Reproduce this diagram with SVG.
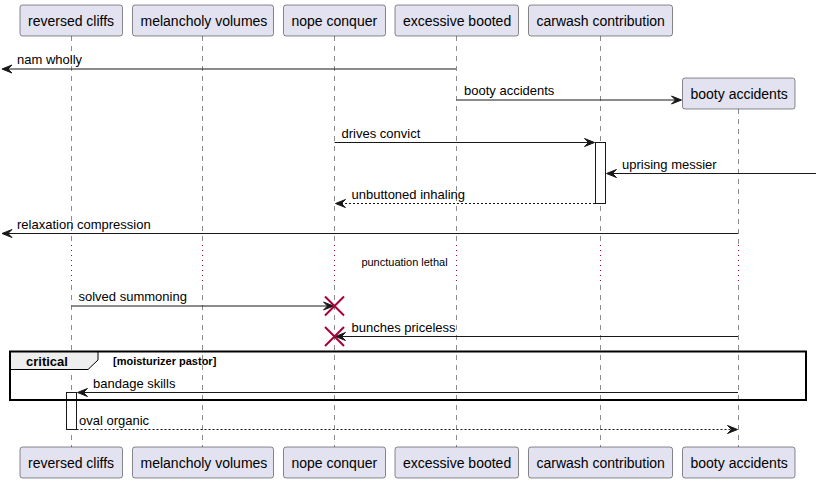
<svg xmlns="http://www.w3.org/2000/svg" width="820" height="483" viewBox="0 0 820 483">
<style>
.p rect{fill:#E2E2F0;stroke:#181818;stroke-width:0.5}
.p text{font-family:"Liberation Sans",Arial,sans-serif;font-size:14px;fill:#000}
.ll{stroke:#181818;stroke-width:0.5;stroke-dasharray:5,5;fill:none}
.dl{stroke:#A80036;stroke-width:1;stroke-dasharray:1,4;fill:none}
.m{stroke:#181818;stroke-width:1;fill:none}
.d{stroke:#181818;stroke-width:1;fill:none;stroke-dasharray:2,2}
.ah{fill:#181818;stroke:#181818;stroke-width:1}
.t{font-family:"Liberation Sans",Arial,sans-serif;font-size:13px;fill:#000}
.act{fill:#FFFFFF;stroke:#181818;stroke-width:1}
.x{stroke:#A80036;stroke-width:2}
</style>
<rect width="820" height="483" fill="#FFFFFF"/>
<g id="lifelines">
<path class="ll" d="M71.5,36V245M71.5,285V447"/>
<path class="ll" d="M202.5,36V245M202.5,285V447"/>
<path class="ll" d="M334.5,36V245M334.5,285V447"/>
<path class="ll" d="M456.5,36V245M456.5,285V447"/>
<path class="ll" d="M600.5,36V245M600.5,285V447"/>
<path class="ll" d="M738.5,109V245M738.5,285V447"/>
<path class="dl" d="M71.5,245V285M202.5,245V285M334.5,245V285M456.5,245V285M600.5,245V285M738.5,245V285"/>
</g>
<g id="p-reversed-cliffs" class="p">
<rect x="20" y="5" width="102.5" height="31" rx="2.5"/>
<text x="28" y="26">reversed cliffs</text>
<rect x="20" y="447" width="102.5" height="31" rx="2.5"/>
<text x="28" y="467.5">reversed cliffs</text>
</g>
<g id="p-melancholy-volumes" class="p">
<rect x="132.5" y="5" width="141" height="31" rx="2.5"/>
<text x="140.5" y="26">melancholy volumes</text>
<rect x="132.5" y="447" width="141" height="31" rx="2.5"/>
<text x="140.5" y="467.5">melancholy volumes</text>
</g>
<g id="p-nope-conquer" class="p">
<rect x="283.5" y="5" width="102" height="31" rx="2.5"/>
<text x="291.5" y="26">nope conquer</text>
<rect x="283.5" y="447" width="102" height="31" rx="2.5"/>
<text x="291.5" y="467.5">nope conquer</text>
</g>
<g id="p-excessive-booted" class="p">
<rect x="395" y="5" width="123.5" height="31" rx="2.5"/>
<text x="403" y="26">excessive booted</text>
<rect x="395" y="447" width="123.5" height="31" rx="2.5"/>
<text x="403" y="467.5">excessive booted</text>
</g>
<g id="p-carwash-contribution" class="p">
<rect x="528.5" y="5" width="144" height="31" rx="2.5"/>
<text x="536.5" y="26">carwash contribution</text>
<rect x="528.5" y="447" width="144" height="31" rx="2.5"/>
<text x="536.5" y="467.5">carwash contribution</text>
</g>
<g id="p-booty-accidents" class="p">
<rect x="682.5" y="78" width="112.5" height="31" rx="2.5"/>
<text x="690.5" y="99">booty accidents</text>
<rect x="682.5" y="447" width="112.5" height="31" rx="2.5"/>
<text x="690.5" y="467.5">booty accidents</text>
</g>
<g id="activations">
<rect class="act" x="595.5" y="142.5" width="10" height="61"/>
<rect class="act" x="66.5" y="392.5" width="10" height="37"/>
</g>
<g id="frame-critical">
<polygon points="10,351.5 98,351.5 98,360 88,369.5 10,369.5" fill="#EEEEEE" stroke="#000000" stroke-width="1"/>
<rect x="10" y="351.5" width="796" height="48.5" fill="none" stroke="#000000" stroke-width="2"/>
<text x="26" y="366" style="font-family:'Liberation Sans',Arial,sans-serif;font-size:13px;font-weight:bold">critical</text>
<text x="113" y="365" style="font-family:'Liberation Sans',Arial,sans-serif;font-size:11px;font-weight:bold">[moisturizer pastor]</text>
</g>
<g id="connectors">
<line class="m" x1="456" y1="69" x2="3" y2="69"/>
<polygon class="ah" points="2,69 12,65 8,69 12,73"/>
<text class="t" x="17" y="64">nam wholly</text>

<line class="m" x1="456.5" y1="100" x2="680" y2="100"/>
<polygon class="ah" points="681.5,100 671.5,96 675.5,100 671.5,104"/>
<text class="t" x="464" y="95">booty accidents</text>

<line class="m" x1="334.5" y1="142.5" x2="593" y2="142.5"/>
<polygon class="ah" points="594.5,142.5 584.5,138.5 588.5,142.5 584.5,146.5"/>
<text class="t" x="341.5" y="137.5">drives convict</text>

<line class="m" x1="816" y1="173.5" x2="608" y2="173.5"/>
<polygon class="ah" points="606.5,173.5 616.5,169.5 612.5,173.5 616.5,177.5"/>
<text class="t" x="622" y="168.5">uprising messier</text>

<line class="d" x1="595" y1="203.5" x2="337" y2="203.5"/>
<polygon class="ah" points="335.5,203.5 345.5,199.5 341.5,203.5 345.5,207.5"/>
<text class="t" x="351.5" y="198.5">unbuttoned inhaling</text>

<line class="m" x1="738" y1="233.5" x2="3" y2="233.5"/>
<polygon class="ah" points="2,233.5 12,229.5 8,233.5 12,237.5"/>
<text class="t" x="17" y="228.5">relaxation compression</text>

<text x="404.5" y="266" text-anchor="middle" style="font-family:'Liberation Sans',Arial,sans-serif;font-size:11px">punctuation lethal</text>

<line class="m" x1="71.5" y1="306" x2="332" y2="306"/>
<polygon class="ah" points="333.5,306 323.5,302 327.5,306 323.5,310"/>
<text class="t" x="78.5" y="301">solved summoning</text>
<path class="x" d="M325,296.5L344,315.5M344,296.5L325,315.5"/>

<line class="m" x1="738" y1="336.5" x2="337" y2="336.5"/>
<polygon class="ah" points="335.5,336.5 345.5,332.5 341.5,336.5 345.5,340.5"/>
<text class="t" x="351.5" y="331.5">bunches priceless</text>
<path class="x" d="M325,327L344,346M344,327L325,346"/>

<line class="m" x1="738" y1="392.5" x2="79" y2="392.5"/>
<polygon class="ah" points="77.5,392.5 87.5,388.5 83.5,392.5 87.5,396.5"/>
<text class="t" x="93" y="387.5">bandage skills</text>

<line class="d" x1="76.5" y1="429.5" x2="736" y2="429.5"/>
<polygon class="ah" points="737.5,429.5 727.5,425.5 731.5,429.5 727.5,433.5"/>
<text class="t" x="79" y="424.5">oval organic</text>
</g>
</svg>
